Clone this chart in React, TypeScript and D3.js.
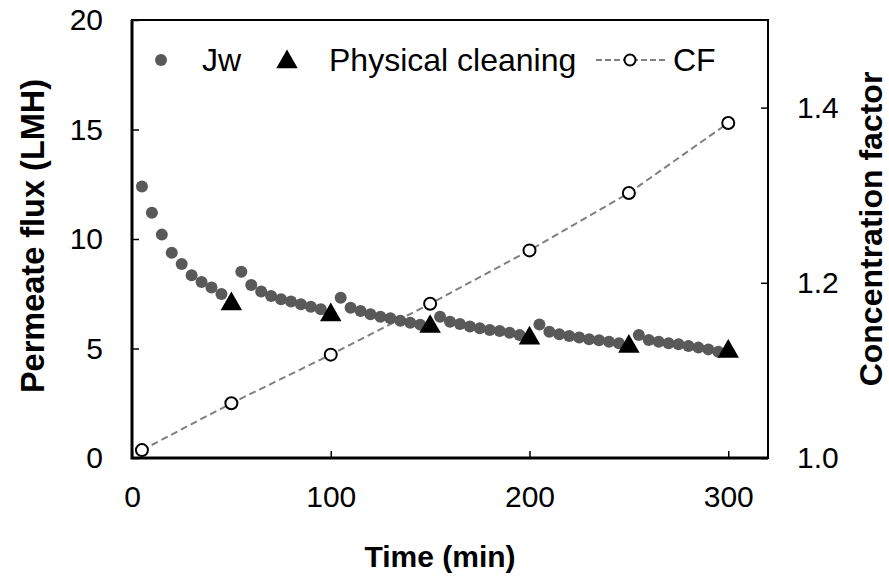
import { useEffect, useRef } from "react";
import {
  select,
  scaleLinear,
  axisLeft,
  axisRight,
  axisBottom,
  line as d3line,
  symbol,
  symbolTriangle,
  format,
} from "d3";

// --- Data ---
const jwTime = [
  5, 10, 15, 20, 25, 30, 35, 40, 45,
  55, 60, 65, 70, 75, 80, 85, 90, 95,
  105, 110, 115, 120, 125, 130, 135, 140, 145,
  155, 160, 165, 170, 175, 180, 185, 190, 195,
  205, 210, 215, 220, 225, 230, 235, 240, 245,
  255, 260, 265, 270, 275, 280, 285, 290, 295,
];
const jwFlux = [
  12.4, 11.2, 10.2, 9.37, 8.86, 8.34, 8.04, 7.79, 7.49,
  8.5, 7.9, 7.6, 7.4, 7.25, 7.15, 7.02, 6.91, 6.79,
  7.32, 6.86, 6.71, 6.56, 6.45, 6.38, 6.27, 6.18, 6.09,
  6.45, 6.22, 6.12, 6.0, 5.92, 5.84, 5.8, 5.72, 5.62,
  6.1, 5.77, 5.65, 5.57, 5.5, 5.42, 5.38, 5.31, 5.24,
  5.62, 5.39, 5.31, 5.24, 5.19, 5.11, 5.04, 4.96, 4.85,
];
const cleanTime = [50, 100, 150, 200, 250, 300];
const cleanFlux = [7.1, 6.6, 6.07, 5.54, 5.16, 4.93];
const cfTime = [5, 50, 100, 150, 200, 250, 300];
const cfValue = [1.009, 1.0625, 1.118, 1.176, 1.237, 1.3025, 1.3825];

const xTicks = [0, 100, 200, 300];
const yTicks = [0, 5, 10, 15, 20];
const y2Ticks = [1.0, 1.2, 1.4];

const WIDTH = 889;
const HEIGHT = 579;
const FONT = "'Liberation Sans', Arial, sans-serif";
const DOT = "#595959";
const DASH = "#808080";

export default function App() {
  const svgRef = useRef<SVGSVGElement>(null);

  useEffect(() => {
    const svg = select(svgRef.current);
    svg.selectAll("*").remove();

    const left = 132;
    const right = 768;
    const top = 20;
    const bottom = 458;

    const x = scaleLinear().domain([0, 320]).range([left, right]);
    const y = scaleLinear().domain([0, 20]).range([bottom, top]);
    const y2 = scaleLinear().domain([1, 1.5]).range([bottom, top]);

    svg.append("rect").attr("width", WIDTH).attr("height", HEIGHT).attr("fill", "#fff");

    // --- Axes (inward ticks) ---
    const styleAxis = (sel: any) => {
      sel.select(".domain").remove();
      sel.selectAll(".tick line").attr("stroke", "#000").attr("stroke-width", 1.5);
      sel
        .selectAll(".tick text")
        .attr("fill", "#000")
        .attr("font-size", 30)
        .attr("font-family", FONT);
    };

    svg
      .append("g")
      .attr("transform", `translate(${left},0)`)
      .call(axisLeft(y).tickValues(yTicks).tickSize(-7).tickPadding(29))
      .call(styleAxis);

    svg
      .append("g")
      .attr("transform", `translate(0,${bottom})`)
      .call(axisBottom(x).tickValues(xTicks).tickSize(-7).tickPadding(28))
      .call(styleAxis);

    svg
      .append("g")
      .attr("transform", `translate(${right},0)`)
      .call(
        axisRight(y2)
          .tickValues(y2Ticks)
          .tickSize(-7)
          .tickPadding(29)
          .tickFormat(format(".1f")),
      )
      .call(styleAxis);

    // --- Frame ---
    svg
      .append("rect")
      .attr("x", left)
      .attr("y", top)
      .attr("width", right - left)
      .attr("height", bottom - top)
      .attr("fill", "none")
      .attr("stroke", "#000")
      .attr("stroke-width", 2);
    svg
      .append("path")
      .attr("d", `M${left},${top}V${bottom}H${right}`)
      .attr("fill", "none")
      .attr("stroke", "#000")
      .attr("stroke-width", 3);

    // --- CF dashed line ---
    const cfLine = d3line<number>()
      .x((_, i) => x(cfTime[i]))
      .y((d) => y2(d));
    svg
      .append("path")
      .datum(cfValue)
      .attr("d", cfLine)
      .attr("fill", "none")
      .attr("stroke", DASH)
      .attr("stroke-width", 2)
      .attr("stroke-dasharray", "7,4");

    // --- Jw dots ---
    svg
      .append("g")
      .selectAll("circle")
      .data(jwFlux)
      .join("circle")
      .attr("cx", (_, i) => x(jwTime[i]))
      .attr("cy", (d) => y(d))
      .attr("r", 6)
      .attr("fill", DOT);

    // --- Physical cleaning triangles ---
    const tri = symbol().type(symbolTriangle).size(200);
    svg
      .append("g")
      .selectAll("path")
      .data(cleanFlux)
      .join("path")
      .attr("d", tri)
      .attr("transform", (d, i) => `translate(${x(cleanTime[i])},${y(d) + 1.5})`)
      .attr("fill", "#000");

    // --- CF open circles ---
    svg
      .append("g")
      .selectAll("circle")
      .data(cfValue)
      .join("circle")
      .attr("cx", (_, i) => x(cfTime[i]))
      .attr("cy", (d) => y2(d))
      .attr("r", 6)
      .attr("fill", "#fff")
      .attr("stroke", "#000")
      .attr("stroke-width", 2);

    // --- Legend ---
    const ly = 60;
    const lg = svg.append("g").attr("font-family", FONT).attr("font-size", 32);
    lg.append("circle").attr("cx", 161).attr("cy", ly).attr("r", 6).attr("fill", DOT);
    lg.append("text").attr("x", 202).attr("y", ly + 11).text("Jw");
    lg.append("path")
      .attr("d", tri)
      .attr("transform", `translate(287,${ly + 2})`)
      .attr("fill", "#000");
    lg.append("text").attr("x", 329).attr("y", ly + 11).text("Physical cleaning");
    lg.append("line")
      .attr("x1", 596)
      .attr("x2", 668)
      .attr("y1", ly)
      .attr("y2", ly)
      .attr("stroke", DASH)
      .attr("stroke-width", 2)
      .attr("stroke-dasharray", "6,3");
    lg.append("circle")
      .attr("cx", 630)
      .attr("cy", ly)
      .attr("r", 5.5)
      .attr("fill", "#fff")
      .attr("stroke", "#000")
      .attr("stroke-width", 2);
    lg.append("text").attr("x", 673).attr("y", ly + 11).text("CF");

    // --- Axis titles ---
    svg
      .append("text")
      .attr("transform", "translate(44,236) rotate(-90)")
      .attr("text-anchor", "middle")
      .attr("font-family", FONT)
      .attr("font-weight", "bold")
      .attr("font-size", 32.5)
      .text("Permeate flux (LMH)");

    svg
      .append("text")
      .attr("transform", "translate(882,229) rotate(-90)")
      .attr("text-anchor", "middle")
      .attr("font-family", FONT)
      .attr("font-weight", "bold")
      .attr("font-size", 32)
      .text("Concentration factor");

    svg
      .append("text")
      .attr("x", 440)
      .attr("y", 567)
      .attr("text-anchor", "middle")
      .attr("font-family", FONT)
      .attr("font-weight", "bold")
      .attr("font-size", 30)
      .text("Time (min)");
  }, []);

  return (
    <svg
      ref={svgRef}
      width={WIDTH}
      height={HEIGHT}
      style={{ position: "absolute", left: 0, top: 0, display: "block" }}
    />
  );
}
